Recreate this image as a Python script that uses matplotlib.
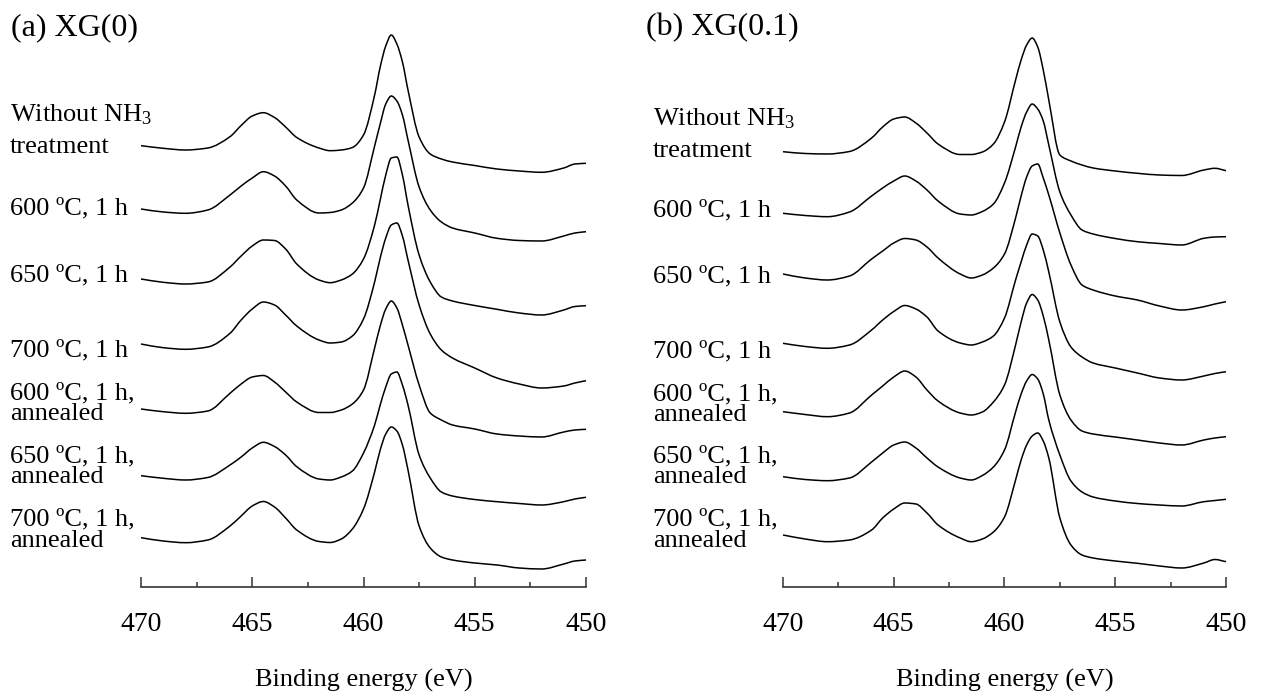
import numpy as np
import matplotlib
matplotlib.use("Agg")
import matplotlib.pyplot as plt
from matplotlib.path import Path
from matplotlib.patches import PathPatch
from matplotlib.ticker import MultipleLocator

plt.rcParams['font.family'] = ['Liberation Serif', 'DejaVu Serif']
plt.rcParams['mathtext.fontset'] = 'custom'
plt.rcParams['mathtext.rm'] = 'Liberation Serif'
plt.rcParams['mathtext.it'] = 'Liberation Serif:italic'
plt.rcParams['mathtext.bf'] = 'Liberation Serif:bold'

# Ti 2p binding-energy grid (eV)
binding_energy = [470, 469, 468, 467, 466, 465.5, 465, 464.5, 464, 463.5, 463, 462,
                  461.5, 461, 460.5, 460, 459.5, 459.25, 459, 458.75, 458.5, 458.25,
                  458, 457.5, 457, 456.5, 456, 455, 454, 453, 452, 451, 450.5, 450]

# (a) XG(0): stacked intensities (a.u.)
xg0_untreated = [454.3, 451.7, 450, 452, 463.3, 474.5, 484, 487.3, 482.5, 473, 462.5, 452,
                 449.3, 450, 452.5, 465, 505, 533, 554, 565, 556, 538, 510, 463, 446, 441,
                 438, 434.5, 431, 429, 427.7, 432, 436, 436.7]
xg0_600 = [391, 388, 386.7, 390, 405, 414, 422, 428.3, 424, 414, 400, 387, 387.5, 390, 397,
           412, 454, 476, 496, 504, 499, 485, 460, 413, 390, 378, 372, 367, 361.7, 359.5,
           359, 364, 367, 368.3]
xg0_650 = [321, 317.7, 316, 318, 333, 344, 354, 360, 359.5, 351, 336, 320, 317.3, 320, 326,
           341, 375, 400, 425, 442, 443, 425, 395, 345, 318, 303, 299, 294.5, 290.7, 287,
           285, 290, 293.5, 294.3]
xg0_700 = [256, 252.3, 250.7, 253, 266.7, 280, 291, 298, 295, 285, 274, 260, 257, 258, 264,
           281, 318, 342, 362, 375, 377, 364, 340, 295, 266, 250, 242, 232, 222, 216, 212,
           214, 217, 219.3]
xg0_600_annealed = [191, 188.3, 186.7, 189, 206.7, 216, 223, 224.5, 218, 208, 198, 187.5,
                    187.5, 190, 196, 210, 252, 274, 291, 299, 292, 275, 255, 215, 187, 180,
                    175, 171, 166, 164, 163, 168, 170, 170.7]
xg0_650_annealed = [124.3, 121.7, 120, 122.5, 135, 143, 152, 157.7, 153.5, 145, 133.3, 121,
                    120, 123, 129, 147, 175, 195, 213, 226, 228, 215, 195, 145, 122, 108,
                    104, 100.5, 98.3, 96.5, 95, 98.3, 101, 102.7]
xg0_700_annealed = [62.3, 59, 57.3, 60, 74, 84, 94, 98.5, 93, 82, 70, 58.5, 57.5, 61, 71, 91,
                    128, 150, 166, 173, 169, 155, 130, 74, 52, 43, 40, 37, 35, 32, 31, 36,
                    39, 40]

# (b) XG(0.1): stacked intensities (a.u.)
xg01_untreated = [448.3, 446.5, 446, 448.5, 462, 473, 481, 483, 477, 467, 456, 445.5, 445.5,
                  448, 456, 478, 520, 540, 555, 562, 553, 530, 500, 445, 439, 435, 432, 429,
                  426.7, 425, 424.5, 430, 431.7, 429.3]
xg01_600 = [386.7, 384.5, 383.3, 388, 404, 412, 419, 424, 419, 410, 399, 386, 385, 388.5,
            396, 417, 453, 473, 488, 496, 491, 479, 455, 408, 385, 370, 366, 361.5, 358.3,
            356.5, 355, 361.7, 363, 363.3]
xg01_650 = [326, 322, 320, 324, 341, 349, 357, 361.5, 360, 353, 342, 326, 322, 325, 332, 346,
            382, 404, 423, 434, 436, 422, 405, 367, 335, 315, 310, 304, 300, 294, 290, 293.3,
            296, 298.3]
xg01_700 = [256.7, 253.5, 251.7, 255, 270, 280, 288.5, 294.5, 291, 283, 269, 257, 255, 258,
            264, 282, 320, 338, 355, 366, 364, 350, 328, 278, 253, 243, 237, 232, 227, 222,
            220, 224, 226.5, 228.3]
xg01_600_annealed = [188.3, 185.5, 183.3, 187, 205, 214, 223, 229, 223, 210, 199, 187, 185,
                     188, 198, 215, 255, 278, 297, 305.5, 300, 284, 260, 205, 180, 169, 166,
                     163, 160, 157, 155, 160, 162, 163.3]
xg01_650_annealed = [123.3, 120.5, 119.3, 122, 138, 147, 155, 158, 152, 142, 133, 122, 120,
                     124.5, 133, 150, 188, 206, 219, 225.5, 221, 206, 180, 145, 119, 108, 103,
                     99, 96.5, 95, 94, 98.3, 99.5, 100.7]
xg01_700_annealed = [65, 61, 58.3, 60, 70, 82, 91, 97, 96, 87, 75, 62, 58.3, 61, 68, 83, 120,
                     140, 155, 164, 167, 159, 142, 82, 55, 45, 42, 39, 36.7, 34, 32, 37, 40.5,
                     38.3]

panel_titles = ['(a) XG(0)', '(b) XG(0.1)']
xtick_values = [470, 465, 460, 455, 450]
xlabel_text = 'Binding energy (eV)'

# curve labels: list of lines per spectrum
curve_labels = [
    ['Without NH$_{\\mathrm{3}}$', 'treatment'],
    ['600 ºC, 1 h'],
    ['650 ºC, 1 h'],
    ['700 ºC, 1 h'],
    ['600 ºC, 1 h,', 'annealed'],
    ['650 ºC, 1 h,', 'annealed'],
    ['700 ºC, 1 h,', 'annealed'],
]

panels = [
    [xg0_untreated, xg0_600, xg0_650, xg0_700, xg0_600_annealed, xg0_650_annealed,
     xg0_700_annealed],
    [xg01_untreated, xg01_600, xg01_650, xg01_700, xg01_600_annealed, xg01_650_annealed,
     xg01_700_annealed],
]


def smooth_trace_path(x, y):
    """Path through every (x, y) point, joined by shape-preserving cubic segments."""
    x = np.asarray(x, float)
    y = np.asarray(y, float)
    h = np.diff(x)
    d = np.diff(y) / h
    m = np.zeros_like(y)
    m[0], m[-1] = d[0], d[-1]
    for k in range(1, len(x) - 1):
        if d[k - 1] * d[k] > 0:
            w1 = 2 * h[k] + h[k - 1]
            w2 = h[k] + 2 * h[k - 1]
            m[k] = (w1 + w2) / (w1 / d[k - 1] + w2 / d[k])
    verts = [(x[0], y[0])]
    codes = [Path.MOVETO]
    for k in range(len(x) - 1):
        verts += [(x[k] + h[k] / 3, y[k] + m[k] * h[k] / 3),
                  (x[k + 1] - h[k] / 3, y[k + 1] - m[k + 1] * h[k] / 3),
                  (x[k + 1], y[k + 1])]
        codes += [Path.CURVE4] * 3
    return Path(verts, codes)


W, H = 1264, 696
fig = plt.figure(figsize=(W / 100, H / 100), dpi=100)


def axes_px(x0, x1, ytop, ybot):
    return fig.add_axes([x0 / W, 1 - ybot / H, (x1 - x0) / W, (ybot - ytop) / H])


panel_geom = [
    dict(x0=141, x1=586, text_x=10, title_x=11),
    dict(x0=783, x1=1226, text_x=653, title_x=646),
]
# label baselines (pixels from top) for each line of each curve label
label_baselines = [
    [[121, 153], [214], [281], [356], [399, 420], [462, 483], [525, 547]],
    [[125, 157], [216], [282], [357], [400, 421], [462, 483], [525, 547]],
]

for p, (geom, spectra) in enumerate(zip(panel_geom, panels)):
    ax = axes_px(geom['x0'], geom['x1'], 25, 587)
    for y in spectra:
        ax.add_patch(PathPatch(smooth_trace_path(binding_energy, y), facecolor='none',
                               edgecolor='black', lw=1.1, clip_on=False,
                               joinstyle='round', capstyle='butt'))
    ax.set_xlim(470, 450)
    ax.set_ylim(13, 575)
    for side in ('top', 'left', 'right'):
        ax.spines[side].set_visible(False)
    ax.spines['bottom'].set_color('#333333')
    ax.spines['bottom'].set_linewidth(1.2)
    ax.set_yticks([])
    ax.set_xticks(xtick_values)
    ax.xaxis.set_minor_locator(MultipleLocator(2.5))
    ax.tick_params(axis='x', which='major', direction='in', length=7.5, width=1.1,
                   color='#333333', labelsize=20, pad=18)
    ax.tick_params(axis='x', which='minor', direction='in', length=3.8, width=1.1,
                   color='#333333')
    ax.patch.set_visible(False)

    fig.text((geom['x0'] + geom['x1']) / 2 / W, 1 - 687 / H, xlabel_text,
             ha='center', va='baseline', fontsize=19)
    fig.text(geom['title_x'] / W, 1 - 35 / H, panel_titles[p],
             ha='left', va='baseline', fontsize=23)
    for lines, bases in zip(curve_labels, label_baselines[p]):
        for txt, b in zip(lines, bases):
            fig.text(geom['text_x'] / W, 1 - b / H, txt, ha='left', va='baseline',
                     fontsize=19)

fig.savefig('out.png', dpi=100, facecolor='white')
